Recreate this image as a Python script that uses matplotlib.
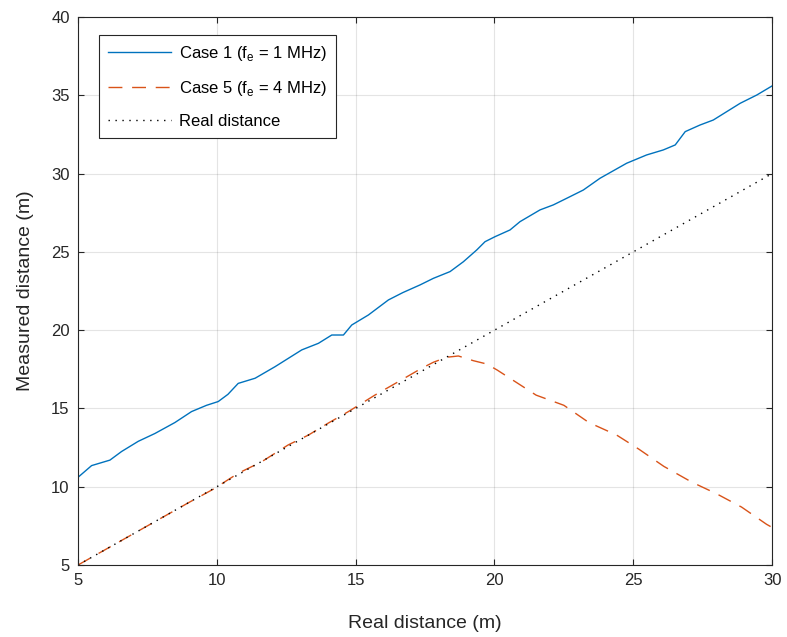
import numpy as np
import matplotlib.pyplot as plt

plt.rcParams['font.family'] = ['Liberation Sans', 'DejaVu Sans']
plt.rcParams['mathtext.fontset'] = 'custom'
plt.rcParams['mathtext.rm'] = 'Liberation Sans'

# Case 1 (fe = 1 MHz)
case1_x = [5.0, 5.49, 6.15, 6.57, 7.17, 7.77, 8.49, 9.09, 9.63, 10.05, 10.4, 10.77,
           11.38, 12.1, 13.06, 13.66, 14.14, 14.56, 14.86, 15.46, 16.18, 16.7,
           17.32, 17.8, 18.4, 18.88, 19.36, 19.66, 20.02, 20.56, 20.92, 21.64,
           22.12, 22.6, 23.2, 23.8, 24.76, 25.48, 26.08, 26.51, 26.87, 27.4,
           27.88, 28.36, 28.85, 29.45, 30.0]
case1_y = [10.6, 11.35, 11.7, 12.25, 12.9, 13.4, 14.1, 14.8, 15.2, 15.44, 15.9, 16.6,
           16.93, 17.67, 18.74, 19.16, 19.69, 19.69, 20.33, 20.97, 21.93, 22.4,
           22.89, 23.31, 23.74, 24.37, 25.12, 25.65, 25.97, 26.4, 26.93, 27.68,
           28.0, 28.42, 28.95, 29.7, 30.66, 31.19, 31.51, 31.83, 32.68, 33.1,
           33.42, 33.95, 34.49, 35.02, 35.6]

# Case 5 (fe = 4 MHz)
case5_x = [5.0, 6.0, 7.0, 8.0, 9.0, 9.87, 10.77, 11.62, 12.57, 13.3, 14.0, 14.74,
           15.7, 16.54, 17.38, 17.8, 18.28, 18.7, 19.24, 19.72, 20.1, 21.5, 22.5,
           23.4, 24.4, 25.2, 26.1, 27.1, 28.0, 28.9, 29.8, 30.0]
case5_y = [5.0, 6.0, 7.0, 8.0, 9.0, 9.84, 10.86, 11.6, 12.67, 13.3, 14.05, 14.8,
           15.86, 16.71, 17.57, 17.95, 18.27, 18.35, 18.05, 17.84, 17.45, 15.85, 15.2,
           14.1, 13.3, 12.4, 11.3, 10.3, 9.55, 8.7, 7.6, 7.4]

real_x = [5, 30]
real_y = [5, 30]

labels = ['Case 1 (f$_\\mathregular{e}$ = 1 MHz)',
          'Case 5 (f$_\\mathregular{e}$ = 4 MHz)',
          'Real distance']

fig = plt.figure(figsize=(7.87, 6.37), dpi=100)
ax = fig.add_axes([0.0991, 0.113, 0.882, 0.8603])

ax.plot(case1_x, case1_y, color='#0072BD', lw=1.0, label=labels[0])
ax.plot(case5_x, case5_y, color='#D95319', lw=1.0, dashes=(10, 7), label=labels[1])
ax.plot(real_x, real_y, color='black', lw=1.0, ls=(0, (1, 4)), label=labels[2])

ax.set_xlim(5, 30)
ax.set_ylim(5, 40)
ax.set_xticks([5, 10, 15, 20, 25, 30])
ax.set_yticks([5, 10, 15, 20, 25, 30, 35, 40])
ax.grid(True, color='#262626', alpha=0.12, lw=0.8)
ax.tick_params(direction='in', top=True, right=True, labelsize=12,
               colors='#262626', length=4, pad=6)
for s in ax.spines.values():
    s.set_color('#262626')
    s.set_linewidth(0.8)

ax.set_xlabel('Real distance (m)', fontsize=14, color='#262626', labelpad=19)
ax.set_ylabel('Measured distance (m)', fontsize=14, color='#262626', labelpad=12)

leg = ax.legend(loc='upper left', bbox_to_anchor=(0.030, 0.967), fontsize=12,
                fancybox=False, edgecolor='#262626', framealpha=1,
                handlelength=3.8, borderpad=0.55, labelspacing=0.95,
                borderaxespad=0, handletextpad=0.45)
leg.get_frame().set_linewidth(0.8)

fig.savefig('out.png', dpi=100)
